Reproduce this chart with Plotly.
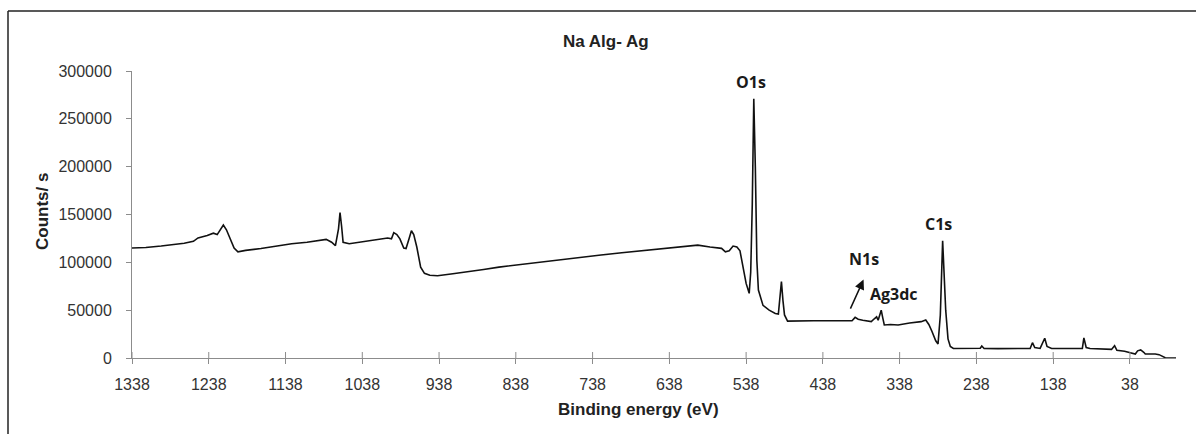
import plotly.graph_objects as go

# ---- data (binding energy in eV, counts/s) ----
energy = [1338, 1320, 1300, 1285, 1270, 1258, 1252, 1240, 1232, 1227, 1222, 1219, 1215, 1210, 1205, 1200,
          1190, 1170, 1150, 1130, 1110, 1095, 1085, 1078, 1073, 1069, 1067, 1065, 1063, 1055, 1040, 1020,
          1005, 1000, 997, 993, 989, 984, 981, 977, 974, 971, 967, 962, 957, 950, 940, 920, 900, 880, 860,
          840, 814, 790, 760, 727, 700, 670, 640, 620, 601, 585, 570, 565, 560, 555, 550, 546, 542, 538,
          534, 532, 530, 528, 526, 524, 522, 516, 508, 500, 496, 494, 492, 490, 488, 484, 470, 450, 430,
          410, 400, 396, 392, 386, 375, 371, 368, 366, 363, 362, 360, 358, 350, 340, 325, 310, 304, 300,
          296, 291, 288, 285, 282, 280, 278, 275, 272, 268, 250, 233, 231, 228, 210, 190, 168, 165, 162,
          155, 149, 146, 140, 120, 100, 98, 95, 90, 75, 62, 58, 55, 45, 35, 31, 28, 24, 20, 18, 5, 0, -8, -22]
counts = [115000, 115500, 117000, 118500, 120000, 122000, 125500, 128000, 130500, 129000, 136000, 139000,
          134000, 124000, 115000, 111000, 112500, 114500, 117000, 119500, 121000, 122500, 124000, 121000,
          117500, 135000, 152000, 138000, 121000, 119500, 121500, 123500, 125500, 124500, 131000, 129000,
          124500, 115000, 114500, 125000, 133000, 129000, 116000, 95000, 88500, 86500, 86000, 88000, 90000,
          92500, 95000, 97000, 99600, 102000, 105000, 107600, 110000, 112500, 114600, 116500, 118000, 116000,
          114600, 111000, 112000, 117000, 116000, 112000, 95000, 78000, 67600, 90000, 160000, 271000, 200000,
          102000, 71000, 55000, 50000, 46500, 46000, 60000, 79800, 60000, 45000, 38500, 39000, 39000, 39000,
          39500, 39000, 42500, 40500, 39500, 38000, 41000, 43000, 39500, 46000, 50000, 42000, 34500, 35000,
          34500, 36500, 38000, 39700, 35000, 28000, 18000, 14600, 45000, 122600, 90000, 50000, 20000, 12000,
          10000, 10000, 10200, 12500, 10000, 9800, 10000, 10000, 16000, 11000, 10000, 20600, 12000, 10000,
          10000, 10000, 21000, 11000, 10000, 9500, 9000, 12900, 8000, 7000, 4500, 4200, 7500, 8400, 6000,
          4200, 4200, 3500, 300, 0]

x_ticks = [1338, 1238, 1138, 1038, 938, 838, 738, 638, 538, 438, 338, 238, 138, 38]
y_ticks = [0, 50000, 100000, 150000, 200000, 250000, 300000]

peak_labels = ["O1s", "C1s", "Ag3dc", "N1s"]
peak_label_pos = [(532, 288000), (287, 140000), (346, 67000), (385, 104000)]

W, H = 1196, 434
L, R, T, B = 132, 1196 - 1176, 71, 434 - 358
PW, PH = W - L - R, H - T - B

def px_x(p):
    return (p - L) / PW

def px_y(p):
    return (H - B - p) / PH

fig = go.Figure()
fig.add_trace(go.Scatter(x=energy, y=counts, mode="lines",
                         line=dict(color="#111111", width=1.6), showlegend=False,
                         hoverinfo="skip"))

tick_font = dict(family="Liberation Sans, Arial, sans-serif", size=16, color="#333333")
fig.update_layout(
    width=W, height=H,
    margin=dict(l=L, r=R, t=T, b=B, pad=0),
    paper_bgcolor="white", plot_bgcolor="white",
    xaxis=dict(range=[1338, -22], tickvals=x_ticks, ticktext=[str(v) for v in x_ticks],
               showgrid=False, zeroline=False, showline=True, linecolor="#8c8c8c", linewidth=1,
               ticks="outside", ticklen=5, tickcolor="#8c8c8c", tickfont=tick_font,
               ticklabelstandoff=7),
    yaxis=dict(range=[0, 300000], tickvals=y_ticks, ticktext=[str(v) for v in y_ticks],
               showgrid=False, zeroline=False, showline=True, linecolor="#8c8c8c", linewidth=1,
               ticks="outside", ticklen=5, tickcolor="#8c8c8c", tickfont=tick_font,
               ticklabelstandoff=11),
)

# inner half of crossing x ticks
for v in x_ticks:
    fig.add_shape(type="line", xref="x", yref="y domain", x0=v, x1=v, y0=0, y1=6 / PH,
                  line=dict(color="#8c8c8c", width=1))

# chart-area border (top and left edges)
fig.add_shape(type="line", xref="paper", yref="paper", x0=px_x(8), x1=px_x(1200),
              y0=px_y(11), y1=px_y(11), line=dict(color="#222222", width=1.5))
fig.add_shape(type="line", xref="paper", yref="paper", x0=px_x(8), x1=px_x(8),
              y0=px_y(11), y1=px_y(440), line=dict(color="#222222", width=1.5))

bold = dict(family="Liberation Sans, Arial, sans-serif", size=17, color="#222222")
fig.add_annotation(text="<b>Na Alg- Ag</b>", xref="paper", yref="paper", x=px_x(606), y=px_y(42),
                   showarrow=False, font=bold, xanchor="center", yanchor="middle")
fig.add_annotation(text="<b>Counts/ s</b>", xref="paper", yref="paper", x=px_x(42), y=px_y(212),
                   showarrow=False, font=bold, textangle=-90, xanchor="center", yanchor="middle")
fig.add_annotation(text="<b>Binding energy (eV)</b>", xref="paper", yref="paper", x=px_x(638),
                   y=px_y(409), showarrow=False, font=bold, xanchor="center", yanchor="middle")

lab_font = dict(family="Open Sans, Noto Sans, sans-serif", size=16, color="#1a1a1a")
for t, (xe, yc) in zip(peak_labels, peak_label_pos):
    fig.add_annotation(text="<b>%s</b>" % t, x=xe, y=yc, xref="x", yref="y", showarrow=False,
                       font=lab_font, xanchor="center", yanchor="middle")
# arrow pointing to N1s
fig.add_annotation(text="", x=385, y=82000, ax=403, ay=50000, xref="x", yref="y",
                   axref="x", ayref="y", showarrow=True, arrowhead=2, arrowsize=1.3,
                   arrowwidth=1.5, arrowcolor="#111111")

fig.write_html("out.html")
